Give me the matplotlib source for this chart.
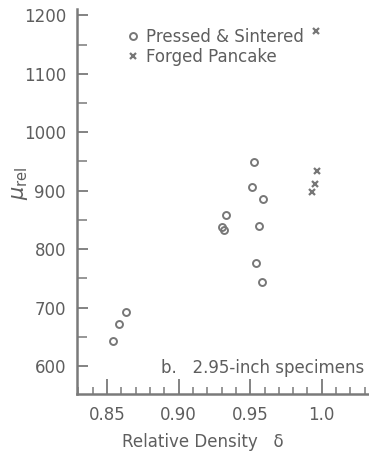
import numpy as np
import matplotlib
matplotlib.use('Agg')
import matplotlib.pyplot as plt
from matplotlib.ticker import MultipleLocator

# Pressed & Sintered
ps_density = [0.953, 0.951, 0.959, 0.933, 0.930, 0.932, 0.956, 0.954, 0.958, 0.863, 0.858, 0.854]
ps_mu = [949, 907, 886, 858, 838, 832, 839, 777, 744, 693, 672, 642]

# Forged Pancake
fp_density = [0.996, 0.997, 0.995, 0.993]
fp_mu = [1174, 934, 911, 898]

ink = '#5e5e5e'
plt.rcParams['font.family'] = ['DejaVu Sans']
plt.rcParams['mathtext.fontset'] = 'dejavusans'

fig = plt.figure(figsize=(3.69, 4.54), dpi=100)
ax = fig.add_axes([77/369, 1 - 394/454, 1 - 77/369, (394 - 9)/454])

ax.plot(ps_density, ps_mu, linestyle='none', marker='o', markersize=5,
        markerfacecolor='none', markeredgecolor='#777777', markeredgewidth=1.4,
        label='Pressed & Sintered')
ax.plot(fp_density, fp_mu, linestyle='none', marker='x', markersize=4.5,
        color='#777777', markeredgewidth=1.6, label='Forged Pancake')

ax.set_xlim(0.829, 1.033)
ax.set_ylim(552, 1211)

for s in ['top', 'right']:
    ax.spines[s].set_visible(False)
for s in ['left', 'bottom']:
    ax.spines[s].set_color('#7a7a7a')
    ax.spines[s].set_linewidth(1.8)

ax.xaxis.set_major_locator(MultipleLocator(0.05))
ax.xaxis.set_minor_locator(MultipleLocator(0.01))
ax.yaxis.set_major_locator(MultipleLocator(100))
ax.yaxis.set_minor_locator(MultipleLocator(50))
ax.set_xticks([0.85, 0.90, 0.95, 1.0])
ax.set_xticklabels(['0.85', '0.90', '0.95', '1.0'])
ax.set_yticks([600, 700, 800, 900, 1000, 1100, 1200])

ax.tick_params(axis='x', which='major', direction='in', length=11, width=1.3,
               color='#7a7a7a', labelsize=12, labelcolor=ink, pad=9)
ax.tick_params(axis='x', which='minor', direction='in', length=5, width=1.1, color='#7a7a7a')
ax.tick_params(axis='y', which='major', direction='in', length=8, width=1.3,
               color='#7a7a7a', labelsize=12, labelcolor=ink, pad=8)
ax.tick_params(axis='y', which='minor', direction='in', length=7, width=1.1, color='#7a7a7a')

ax.set_xlabel('Relative Density   δ', fontsize=12, color=ink)
ax.xaxis.set_label_coords((203 - 77) / 292, -(433 - 394) / 385)
ax.set_ylabel(r'$\mu_{\mathregular{rel}}$', fontsize=15, color=ink)
ax.yaxis.set_label_coords(-(77 - 30) / 292, (394 - 183) / 385)

ax.legend(loc='upper left', bbox_to_anchor=(0.14, 0.968), frameon=False,
          fontsize=12, labelcolor=ink, handletextpad=0.3, handlelength=1.0,
          borderaxespad=0, labelspacing=0.1)

ax.text(0.985, 0.045, 'b.   2.95-inch specimens', transform=ax.transAxes,
        fontsize=12, color=ink, ha='right', va='bottom')

fig.savefig('out.png', dpi=100)
